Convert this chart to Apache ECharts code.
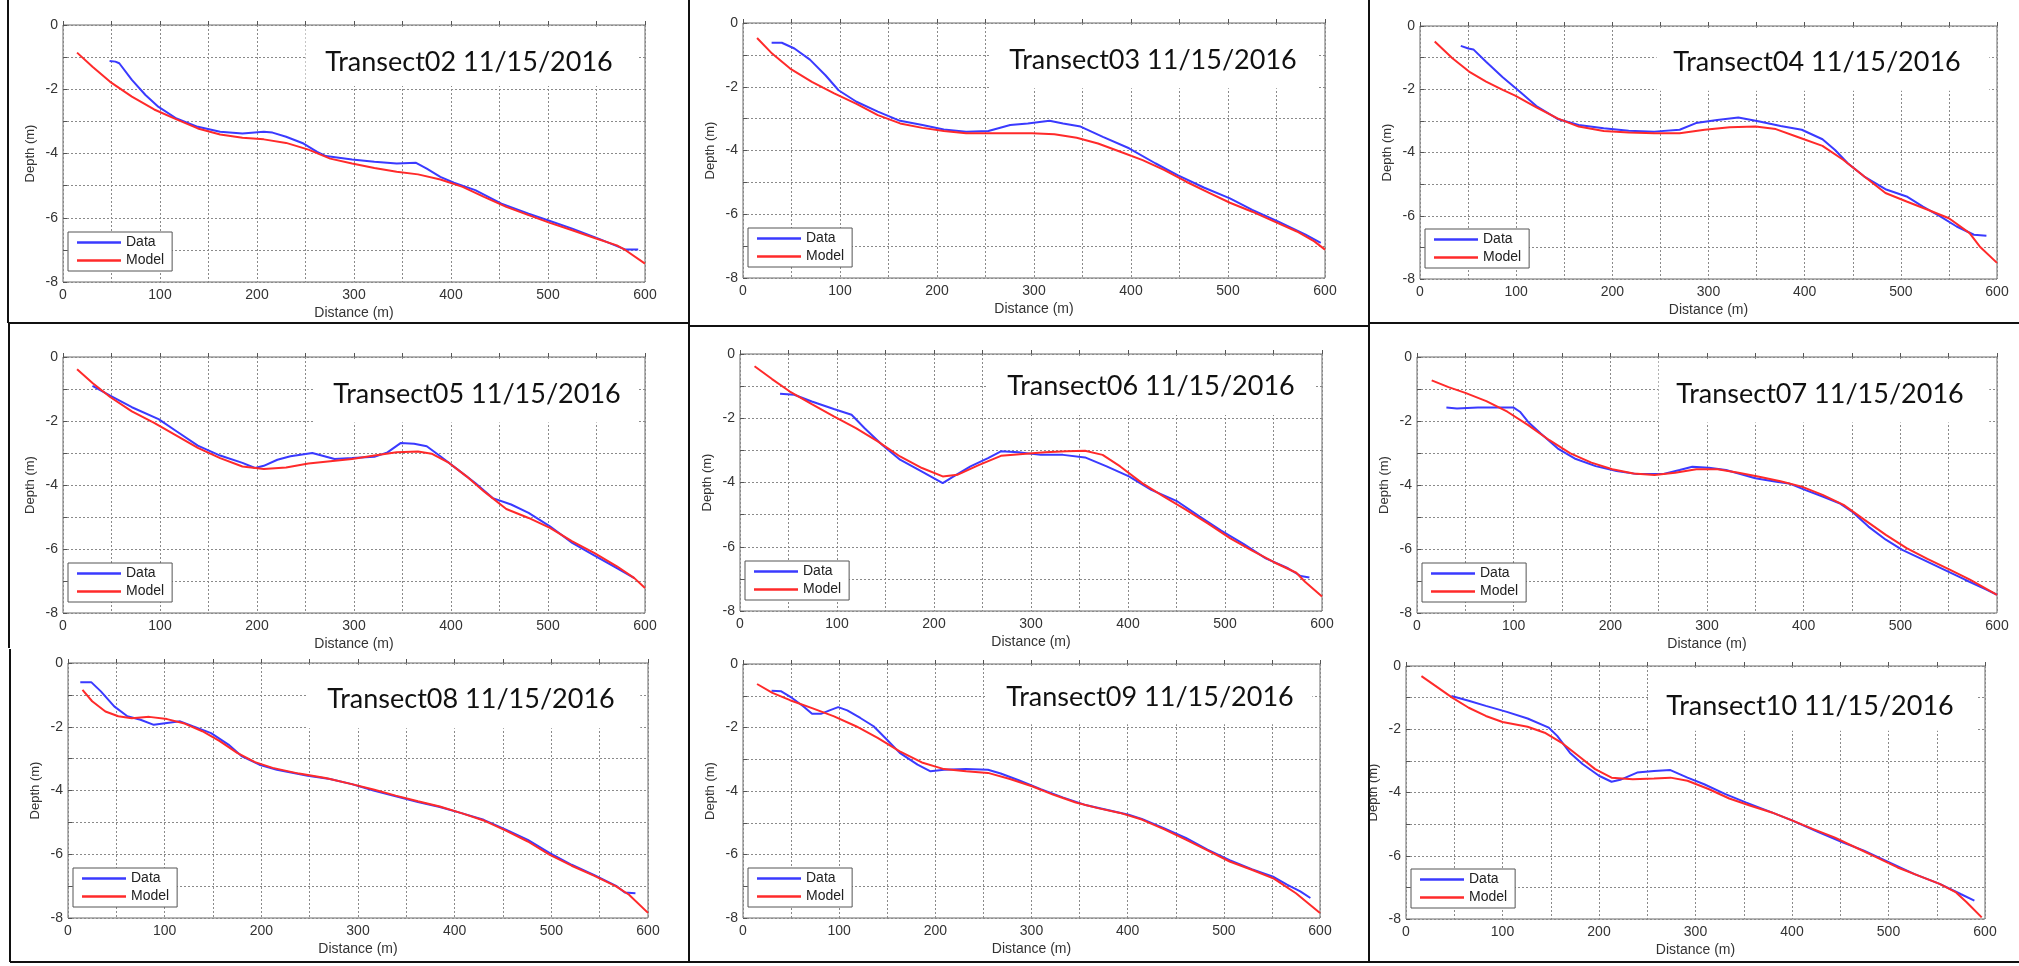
<!DOCTYPE html>
<html><head><meta charset="utf-8">
<script src="https://cdn.jsdelivr.net/npm/echarts@6/dist/echarts.min.js"></script>
<style>html,body{margin:0;padding:0;background:#fff}#c{width:2019px;height:966px}</style>
</head><body><div id="c"></div>
<script>
// ---- tick labels / names ----
const xTickLabels = [0, 100, 200, 300, 400, 500, 600];
const yTickLabels = [0, -2, -4, -6, -8];
const seriesNames = ['Data', 'Model'];
const titles = ['Transect02 11/15/2016','Transect03 11/15/2016','Transect04 11/15/2016',
  'Transect05 11/15/2016','Transect06 11/15/2016','Transect07 11/15/2016',
  'Transect08 11/15/2016','Transect09 11/15/2016','Transect10 11/15/2016'];

// ---- Transect02 ----
const t02DataX = [48,54,58,71,85,98.5,117,139,162,185,207,216,230,248,262,271,298,321,344,364,375,389,403,425,452,480,502,525,552,580,593];
const t02DataY = [-1.12,-1.14,-1.19,-1.71,-2.18,-2.55,-2.91,-3.17,-3.32,-3.38,-3.32,-3.35,-3.48,-3.69,-3.95,-4.08,-4.19,-4.26,-4.31,-4.29,-4.47,-4.73,-4.91,-5.14,-5.56,-5.87,-6.1,-6.34,-6.65,-6.99,-6.99];
const t02ModelX = [14.5,30.4,48.6,71,94,117,139,162,185,207,230,253,275.5,298,321,344,366,389,412,434,457,480,502,525,548,571,580,600];
const t02ModelY = [-0.86,-1.3,-1.77,-2.23,-2.63,-2.94,-3.22,-3.41,-3.51,-3.56,-3.67,-3.88,-4.16,-4.31,-4.45,-4.57,-4.65,-4.81,-5.04,-5.35,-5.66,-5.92,-6.16,-6.39,-6.63,-6.86,-7.01,-7.43];
// ---- Transect03 ----
const t03DataX = [29.5,40,53,69,85,98.5,117,139,162,185,207,230,253,275.5,293.6,316,330,348,371,398,425,448,475,502,525,552,580,595.6];
const t03DataY = [-0.62,-0.62,-0.8,-1.15,-1.64,-2.11,-2.47,-2.78,-3.07,-3.2,-3.34,-3.41,-3.39,-3.2,-3.15,-3.07,-3.15,-3.25,-3.57,-3.93,-4.4,-4.77,-5.16,-5.5,-5.86,-6.23,-6.64,-6.9];
const t03ModelX = [14.5,30,48.6,71,94,117,139,162,185,207,230,253,275.5,298,321,344,366,389,412,434,457,480,502,525,548,571,589,600];
const t03ModelY = [-0.47,-0.96,-1.43,-1.85,-2.21,-2.54,-2.89,-3.15,-3.29,-3.39,-3.46,-3.46,-3.46,-3.46,-3.49,-3.6,-3.78,-4.04,-4.3,-4.61,-4.98,-5.32,-5.64,-5.92,-6.23,-6.54,-6.85,-7.11];
// ---- Transect04 ----
const t04DataX = [42.4,50.3,55.5,68.7,86,103.6,121,143,165,191,217,243.6,270,287,309,331,353,375,397,418.5,431.6,444.8,462,484,506,523,541,558,576,589];
const t04DataY = [-0.63,-0.71,-0.74,-1.13,-1.62,-2.07,-2.53,-2.94,-3.13,-3.23,-3.31,-3.34,-3.28,-3.07,-2.97,-2.89,-3.02,-3.16,-3.28,-3.58,-3.92,-4.34,-4.76,-5.16,-5.39,-5.71,-6.02,-6.34,-6.6,-6.63];
const t04ModelX = [15.3,33.7,51,68.7,86,99,121,143,165,191,217,243.6,270,296,322,349,370,392,418.5,440,462,484,506,528,550,571.5,582,600];
const t04ModelY = [-0.49,-1.02,-1.44,-1.76,-2.02,-2.2,-2.57,-2.92,-3.18,-3.32,-3.37,-3.39,-3.39,-3.28,-3.2,-3.18,-3.26,-3.5,-3.79,-4.23,-4.76,-5.28,-5.55,-5.81,-6.08,-6.55,-6.97,-7.49];
// ---- Transect05 ----
const t05DataX = [30.4,48.6,71,98.5,117,139,162,185,198,207,221,234.5,257,280,298,321,334.5,348,362,375,389,407,425,443,462,480,502,525,548,571,589];
const t05DataY = [-0.9,-1.21,-1.57,-1.94,-2.32,-2.77,-3.08,-3.31,-3.47,-3.4,-3.21,-3.1,-3.0,-3.19,-3.16,-3.12,-2.98,-2.69,-2.71,-2.79,-3.1,-3.52,-3.94,-4.41,-4.61,-4.87,-5.29,-5.81,-6.21,-6.6,-6.91];
const t05ModelX = [14.5,30.4,48.6,71,94,117,139,162,185,207,230,253,275.5,298,321,344,366,380,398,416,434,457,480,502,525,548,571,589,600];
const t05ModelY = [-0.38,-0.81,-1.25,-1.7,-2.06,-2.46,-2.84,-3.16,-3.42,-3.5,-3.45,-3.33,-3.26,-3.19,-3.08,-2.98,-2.95,-3.02,-3.31,-3.73,-4.2,-4.75,-5.03,-5.34,-5.76,-6.13,-6.54,-6.91,-7.22];
// ---- Transect06 ----
const t06DataX = [41.3,55.9,74,96.7,115,128.5,146.7,165,187.6,209,219,237.6,255.7,269,287,310,333,355.7,378,401,424,451,474,496,519,542,565,578,587];
const t06DataY = [-1.24,-1.27,-1.48,-1.71,-1.89,-2.31,-2.83,-3.29,-3.66,-4.02,-3.83,-3.5,-3.24,-3.03,-3.06,-3.14,-3.14,-3.22,-3.5,-3.81,-4.23,-4.59,-5.06,-5.5,-5.91,-6.36,-6.67,-6.91,-6.96];
const t06ModelX = [15,33,51,74,96.7,119.5,142,165,187.6,209,224,246.6,269,291.6,314.5,337,355.7,373.8,392,414.6,437,460,483,505.5,528,551,573.5,582.5,600];
const t06ModelY = [-0.38,-0.78,-1.16,-1.56,-1.94,-2.31,-2.72,-3.19,-3.55,-3.81,-3.76,-3.45,-3.17,-3.11,-3.06,-3.03,-3.01,-3.14,-3.5,-4.02,-4.44,-4.85,-5.29,-5.74,-6.12,-6.49,-6.81,-7.09,-7.55];
// ---- Transect07 ----
const t07DataX = [30.4,41.3,63,84.8,100,106.5,115,128,145.7,163,184.8,206.5,228,254,271.7,284.8,302,319.6,332.6,350,371.7,384.8,402,419.6,437,450,467,485,502,524,545.7,567,589,600];
const t07DataY = [-1.58,-1.61,-1.58,-1.58,-1.58,-1.71,-2.03,-2.39,-2.86,-3.17,-3.41,-3.56,-3.66,-3.66,-3.53,-3.43,-3.46,-3.53,-3.64,-3.79,-3.9,-3.95,-4.16,-4.36,-4.57,-4.83,-5.3,-5.71,-6.03,-6.34,-6.65,-6.96,-7.27,-7.43];
const t07ModelX = [15.2,32.6,50,71.7,93.5,115,137,158.7,180.4,202,224,245.7,267,289,311,332.6,354,376,398,419.6,441.3,463,485,506.5,528,550,572,600];
const t07ModelY = [-0.73,-0.94,-1.12,-1.38,-1.71,-2.13,-2.6,-3.01,-3.3,-3.51,-3.64,-3.69,-3.62,-3.51,-3.51,-3.62,-3.74,-3.88,-4.05,-4.31,-4.62,-5.09,-5.56,-5.97,-6.31,-6.63,-6.96,-7.43];
// ---- Transect08 ----
const t08DataX = [12.7,24,34,47.8,61.4,75,88.8,102.4,116,129.7,148,166,180,198,216,248,271,293.6,316,339,362,384.6,407,430,453,475.7,498,521,544,567,576,587];
const t08DataY = [-0.6,-0.6,-0.89,-1.36,-1.67,-1.78,-1.94,-1.88,-1.83,-1.99,-2.2,-2.56,-2.93,-3.19,-3.35,-3.54,-3.64,-3.8,-4.0,-4.18,-4.36,-4.52,-4.71,-4.92,-5.23,-5.55,-5.96,-6.33,-6.65,-6.99,-7.2,-7.22];
const t08ModelX = [15,25,38.7,52,66,84,102.4,120.6,139,157,175,193.5,211.7,239,266.5,293.6,316,339,362,384.6,407,430,453,475.7,498,521,544,567,580.4,600];
const t08ModelY = [-0.84,-1.2,-1.52,-1.67,-1.73,-1.69,-1.76,-1.9,-2.14,-2.45,-2.82,-3.11,-3.29,-3.47,-3.61,-3.8,-3.97,-4.16,-4.34,-4.5,-4.71,-4.94,-5.26,-5.6,-6.01,-6.36,-6.67,-7.01,-7.27,-7.84];
// ---- Transect09 ----
const t09DataX = [29.7,39.8,51,62.6,71.8,81,90,99,108.4,122,135.8,149.5,163,181.5,195,209,232,254.7,268,286.7,309.6,332.4,355,378,401,414.7,437.6,460.5,483,506,529,552,565.7,579.5,590];
const t09DataY = [-0.84,-0.86,-1.07,-1.33,-1.57,-1.57,-1.46,-1.36,-1.46,-1.7,-1.96,-2.38,-2.8,-3.17,-3.38,-3.33,-3.31,-3.33,-3.45,-3.66,-3.94,-4.2,-4.43,-4.59,-4.75,-4.88,-5.17,-5.48,-5.85,-6.18,-6.46,-6.71,-6.95,-7.16,-7.37];
const t09ModelX = [14.6,30.6,48.9,71.8,94.7,117.5,140,163,186,209,232,254.7,277.6,300.5,323,346,369,392,414.7,437.6,460.5,483,506,529,552,575,600];
const t09ModelY = [-0.63,-0.91,-1.14,-1.39,-1.65,-1.96,-2.33,-2.75,-3.1,-3.31,-3.38,-3.43,-3.62,-3.85,-4.12,-4.36,-4.54,-4.69,-4.9,-5.2,-5.53,-5.87,-6.22,-6.48,-6.76,-7.22,-7.84];
// ---- Transect10 ----
const t10DataX = [47,65,82.7,104.5,126,148,156.7,169.8,182.9,200,213,222,239.5,257,274,291.7,309,331,352.7,379,400.6,426.7,453,474.6,500.8,527,553,574.7,589];
const t10DataY = [-0.95,-1.1,-1.26,-1.45,-1.66,-1.95,-2.21,-2.74,-3.1,-3.47,-3.66,-3.6,-3.37,-3.32,-3.29,-3.53,-3.74,-4.05,-4.32,-4.63,-4.89,-5.24,-5.58,-5.84,-6.21,-6.58,-6.89,-7.21,-7.42];
const t10ModelX = [16,30.5,47.9,65,82.7,100,126,143.7,161,178.5,196,213,235,257,274,291.7,313.5,335,357,379,400.6,422,444,466,487.7,509.4,531,553,570,581,596.6];
const t10ModelY = [-0.32,-0.63,-1.0,-1.32,-1.58,-1.77,-1.92,-2.11,-2.42,-2.84,-3.26,-3.53,-3.58,-3.56,-3.53,-3.63,-3.89,-4.19,-4.42,-4.63,-4.89,-5.16,-5.42,-5.74,-6.05,-6.37,-6.63,-6.89,-7.16,-7.47,-7.95];

const panelData = [
  [t02DataX, t02DataY, t02ModelX, t02ModelY],
  [t03DataX, t03DataY, t03ModelX, t03ModelY],
  [t04DataX, t04DataY, t04ModelX, t04ModelY],
  [t05DataX, t05DataY, t05ModelX, t05ModelY],
  [t06DataX, t06DataY, t06ModelX, t06ModelY],
  [t07DataX, t07DataY, t07ModelX, t07ModelY],
  [t08DataX, t08DataY, t08ModelX, t08ModelY],
  [t09DataX, t09DataY, t09ModelX, t09ModelY],
  [t10DataX, t10DataY, t10ModelX, t10ModelY]
];

// ---- layout (pixels): grid left, top, width, height; title center; white box ----
const layout = [
  {l:63,  t:25,  w:582, h:257, tx:469,  ty:62,  bx0:250, bb:-1.9},
  {l:743, t:23,  w:582, h:255, tx:1153, ty:60,  bx0:255, bb:-2.05},
  {l:1420,t:26,  w:577, h:253, tx:1817, ty:62,  bx0:246, bb:-2.05},
  {l:63,  t:357, w:582, h:256, tx:477,  ty:394, bx0:259, bb:-2.05},
  {l:740, t:354, w:582, h:257, tx:1151, ty:386, bx0:255, bb:-1.9},
  {l:1417,t:357, w:580, h:256, tx:1820, ty:394, bx0:250, bb:-2.05},
  {l:68,  t:663, w:580, h:255, tx:471,  ty:699, bx0:248, bb:-2.05},
  {l:743, t:664, w:577, h:254, tx:1150, ty:697, bx0:252, bb:-1.9},
  {l:1406,t:666, w:579, h:253, tx:1810, ty:706, bx0:252, bb:-2.05}
];

const labelFont = {fontFamily:'Liberation Sans', fontSize:14, color:'#333'};
const gridLine = {show:true, lineStyle:{color:'#8a8a8a', type:[2,2], width:1}};

const grids = [], xAxes = [], yAxes = [], series = [], legends = [], graphics = [];
layout.forEach((L, i) => {
  grids.push({left:L.l, top:L.t, width:L.w, height:L.h, show:true, borderColor:'#6a6a6a', borderWidth:1, backgroundColor:'#fff', containLabel:false});
  xAxes.push({type:'value', gridIndex:i, min:0, max:600, interval:50,
    name:'Distance (m)', nameLocation:'middle', nameGap:24,
    nameTextStyle:{fontFamily:'Liberation Sans', fontSize:14, color:'#333'},
    axisLine:{show:false}, axisTick:{show:true, inside:true, length:4, lineStyle:{color:'#555'}},
    axisLabel:Object.assign({margin:6, formatter:v => xTickLabels.indexOf(v) >= 0 ? String(v) : ''}, labelFont),
    splitLine:gridLine});
  yAxes.push({type:'value', gridIndex:i, min:-8, max:0, interval:1,
    name:'Depth (m)', nameLocation:'middle', nameGap:26, nameRotate:90,
    nameTextStyle:{fontFamily:'Liberation Sans', fontSize:13, color:'#333'},
    axisLine:{show:false}, axisTick:{show:true, inside:true, length:4, lineStyle:{color:'#555'}},
    axisLabel:Object.assign({margin:5, formatter:v => yTickLabels.indexOf(v) >= 0 ? String(v) : ''}, labelFont),
    splitLine:gridLine});
  const d = panelData[i];
  series.push({name:seriesNames[0], type:'line', xAxisIndex:i, yAxisIndex:i, symbol:'none', showSymbol:false, animation:false,
    data:d[0].map((x, k) => [x, d[1][k]]), lineStyle:{color:'#3a3aff', width:2}, itemStyle:{color:'#3a3aff'}, z:3,
    markArea:{silent:true, itemStyle:{color:'#ffffff', opacity:1}, data:[[{coord:[L.bx0, -0.08]}, {coord:[592, L.bb]}]]}});
  series.push({name:seriesNames[1], type:'line', xAxisIndex:i, yAxisIndex:i, symbol:'none', showSymbol:false, animation:false,
    data:d[2].map((x, k) => [x, d[3][k]]), lineStyle:{color:'#ff2a2a', width:2}, itemStyle:{color:'#ff2a2a'}, z:4});
  legends.push({data:seriesNames, orient:'vertical', left:L.l + 5, top:L.t + L.h - 50,
    icon:'rect', itemWidth:44, itemHeight:2.5,
    backgroundColor:'#fff', borderColor:'#555', borderWidth:1, borderRadius:0, padding:[3,8,3,9],
    itemGap:3, selectedMode:false,
    textStyle:{fontFamily:'Liberation Sans', fontSize:14, lineHeight:15, color:'#222'}});
  graphics.push({type:'text', x:L.tx, y:L.ty, z:100,
    style:{text:titles[i], font:'27px Lato', fill:'#111', textAlign:'center', textVerticalAlign:'middle'}});
});

// panel borders of the composite
const borderSegs = [
  [8,0,8,323],[9,323,9,648],[10,649,10,962],
  [8,323,689,323],[689,326,1369,326],[1369,323,2019,323],
  [689,0,689,962],[1369,0,1369,962],[10,962,2019,962]
];
borderSegs.forEach(s => graphics.push({type:'line', z:100, shape:{x1:s[0], y1:s[1], x2:s[2], y2:s[3]}, style:{stroke:'#111', lineWidth:2}}));

const chart = echarts.init(document.getElementById('c'), null, {renderer:'canvas'});
chart.setOption({
  backgroundColor:'#ffffff', animation:false,
  grid:grids, xAxis:xAxes, yAxis:yAxes, series:series, legend:legends, graphic:graphics
});
</script></body></html>
